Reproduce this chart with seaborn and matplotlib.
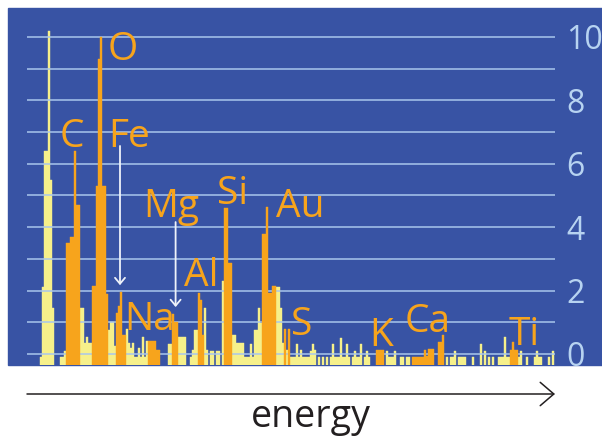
import numpy as np
import pandas as pd
import matplotlib.pyplot as plt
import seaborn as sns
from matplotlib.patches import Rectangle

nan = np.nan

# background counts, one value per channel (top of bar on the axis scale)
bg_counts = [
    -0.1, 2.1, 6.4, 6.4, 10.2, 5.5, 1.45, nan, nan, nan,        # 0
    -0.1, -0.1, 0.1, nan, nan, nan, nan, nan, nan, nan,         # 10
    1.45, 1.45, 0.35, 0.55, 0.35, 0.35, nan, nan, nan, nan,     # 20
    nan, nan, nan, nan, 0.75, 1.0, 1.0, 0.25, nan, nan,         # 30
    nan, nan, nan, 0.8, 0.35, 0.2, 0.35, -0.1, -0.1, 0.2,       # 40
    -0.1, 0.55, -0.1, 0.4, nan, nan, nan, nan, nan, nan,        # 50
    nan, nan, nan, nan, 0.3, 0.3, nan, nan, nan, 0.55,          # 60
    0.55, 0.55, 0.55, nan, nan, -0.1, 0.13, 0.76, 0.76, nan,    # 70
    nan, nan, 1.45, 0.13, nan, 0.1, 0.1, nan, 0.1, 0.1,         # 80
    nan, 2.3, nan, nan, nan, nan, 0.6, 0.6, 0.35, 0.35,         # 90
    0.35, 0.35, -0.1, -0.1, -0.1, 0.3, -0.1, 0.76, 0.76, 1.45,  # 100
    0.97, nan, nan, nan, nan, nan, nan, nan, 2.12, 2.12,        # 110
    1.45, 0.35, nan, 0.12, nan, -0.1, -0.1, -0.1, 0.3, -0.1,    # 120
    0.12, -0.1, -0.1, -0.1, -0.1, 0.1, 0.3, 0.12, nan, -0.1,    # 130
    nan, -0.1, nan, -0.1, nan, -0.1, 0.3, -0.1, -0.1, -0.1,     # 140
    0.52, -0.1, -0.1, 0.3, -0.1, nan, -0.1, 0.1, -0.1, -0.1,    # 150
    0.3, nan, -0.1, 0.1, -0.1, nan, nan, nan, nan, nan,         # 160
    nan, nan, nan, 0.1, -0.1, -0.1, -0.1, 0.1, nan, nan,        # 170
    -0.1, -0.1, nan, -0.1, -0.1, nan, nan, nan, nan, nan,       # 180
    nan, nan, nan, nan, nan, nan, nan, nan, nan, nan,           # 190
    nan, nan, nan, -0.1, nan, -0.1, -0.1, 0.1, nan, -0.1,       # 200
    -0.1, -0.1, -0.1, nan, nan, nan, -0.1, nan, nan, nan,       # 210
    0.3, nan, 0.1, nan, -0.1, nan, -0.1, nan, nan, -0.1,        # 220
    -0.1, -0.1, 0.55, -0.1, -0.1, nan, nan, nan, nan, -0.1,     # 230
    0.1, nan, nan, -0.1, nan, nan, nan, -0.1, 0.1, -0.1,        # 240
    -0.1, nan, nan, nan, -0.1, nan, 0.1, nan,                   # 250
]

# element peaks
peak_channels = [13, 14, 15, 16, 17, 18, 19,
                 26, 27, 28, 29, 30, 31, 32, 33,
                 38, 39, 40, 41, 42,
                 54, 55, 56, 57, 58, 59,
                 66, 67, 68,
                 79, 80, 81,
                 92, 93, 94, 95,
                 111, 112, 113, 114, 115, 116, 117,
                 122, 124,
                 168, 169, 170, 171,
                 186, 187, 188, 189, 190, 191, 192, 193, 194, 195, 196, 199, 200, 201,
                 235, 236, 237, 238]
peak_counts = [3.5, 3.5, 3.7, 3.7, 6.4, 4.7, 4.7,
               2.15, 2.15, 5.3, 9.3, 10.0, 5.3, 5.3, 1.9,
               1.3, 1.5, 1.95, 0.6, 0.6,
               0.4, 0.4, 0.4, 0.4, 0.13, 0.13,
               1.26, 1.0, 1.0,
               1.93, 1.7, 0.6,
               4.6, 4.6, 2.87, 2.87,
               3.78, 3.78, 4.62, 1.93, 1.93, 2.15, 2.15,
               0.8, 0.8,
               0.12, 0.12, 0.12, 0.12,
               -0.1, -0.1, -0.1, -0.1, -0.1, -0.1, 0.12, -0.05, 0.15, 0.15, 0.15, 0.38, 0.38, 0.6,
               0.13, 0.38, 0.13, 0.13]

elements = ["C", "O", "Fe", "Mg", "Na", "Al", "Si", "Au", "S", "K", "Ca", "Ti"]
elem_x = [15.2, 41, 44, 65, 54.5, 80, 96, 129.5, 130.4, 170, 193.5, 241.7]
elem_y = [6.52, 9.27, 6.52, 4.32, 0.76, 2.14, 4.73, 4.32, 0.6, 0.25, 0.7, 0.28]

# pointers for Fe and Mg
arrow_x = [39.5, 67.3]
arrow_from = [6.56, 4.16]
arrow_to = [2.17, 1.48]

BLUE = "#3853a4"
YELLOW = "#f6f08a"
ORANGE = "#f7a41c"
GRID = "#a9c7ec"
TICK = "#b7d3f1"
INK = "#231f20"

base = -0.347

sns.set_style("white")
plt.rcParams["font.family"] = ["Open Sans", "DejaVu Sans"]

fig = plt.figure(figsize=(6.02, 4.38), dpi=100)
fig.add_artist(Rectangle((8 / 602, 73 / 438), 594 / 602, 357 / 438,
                         transform=fig.transFigure, color=BLUE, zorder=0))
ax = fig.add_axes([27 / 602, 73 / 438, 528 / 602, 357 / 438])
ax.set_facecolor(BLUE)

bg = pd.DataFrame({"channel": np.arange(len(bg_counts)), "count": bg_counts}).dropna()
bg["height"] = bg["count"] - base
peaks = pd.DataFrame({"channel": peak_channels, "count": peak_counts})
peaks["height"] = peaks["count"] - base

sns.barplot(data=bg, x="channel", y="height", native_scale=True, width=1,
            color=YELLOW, saturation=1, bottom=base, linewidth=0.3,
            edgecolor=YELLOW, errorbar=None, ax=ax, zorder=1)
sns.barplot(data=peaks, x="channel", y="height", native_scale=True, width=1,
            color=ORANGE, saturation=1, bottom=base, linewidth=0.3,
            edgecolor=ORANGE, errorbar=None, ax=ax, zorder=2)

ax.set_xlim(-7, 257)
ax.set_ylim(base, 10.91)
ax.set_xticks([])
ax.set_xlabel("")
ax.set_ylabel("")
ax.set_yticks(range(0, 11, 2))
ax.set_yticks(range(1, 11, 2), minor=True)
ax.yaxis.tick_right()
ax.tick_params(axis="y", which="both", length=0, pad=8,
               labelsize=23, labelcolor=TICK)
ax.grid(axis="y", which="both", color=GRID, linewidth=1.1)
ax.set_axisbelow("line")
for s in ax.spines.values():
    s.set_visible(False)

for name, x, y in zip(elements, elem_x, elem_y):
    ax.text(x, y, name, ha="center", va="baseline", fontsize=28,
            color=ORANGE, zorder=3)

for x, y0, y1 in zip(arrow_x, arrow_from, arrow_to):
    ax.annotate("", xy=(x, y1), xytext=(x, y0),
                arrowprops=dict(arrowstyle="->,head_length=0.43,head_width=0.36",
                                color="#eef2fa", lw=1.3, mutation_scale=10,
                                shrinkA=0, shrinkB=0), zorder=3)

# energy axis below the panel
fig.add_artist(plt.Annotation("", xy=(555, 44), xytext=(27, 44),
                              xycoords="figure pixels", textcoords="figure pixels",
                              arrowprops=dict(arrowstyle="->,head_length=0.49,head_width=0.42",
                                              color=INK, lw=1.1, mutation_scale=20,
                                              shrinkA=0, shrinkB=0)))
fig.text(310.7 / 602, 11.3 / 438, "energy", ha="center", va="baseline",
         fontsize=27, color=INK)

fig.savefig("out.png", dpi=100, facecolor="white")
plt.close()
